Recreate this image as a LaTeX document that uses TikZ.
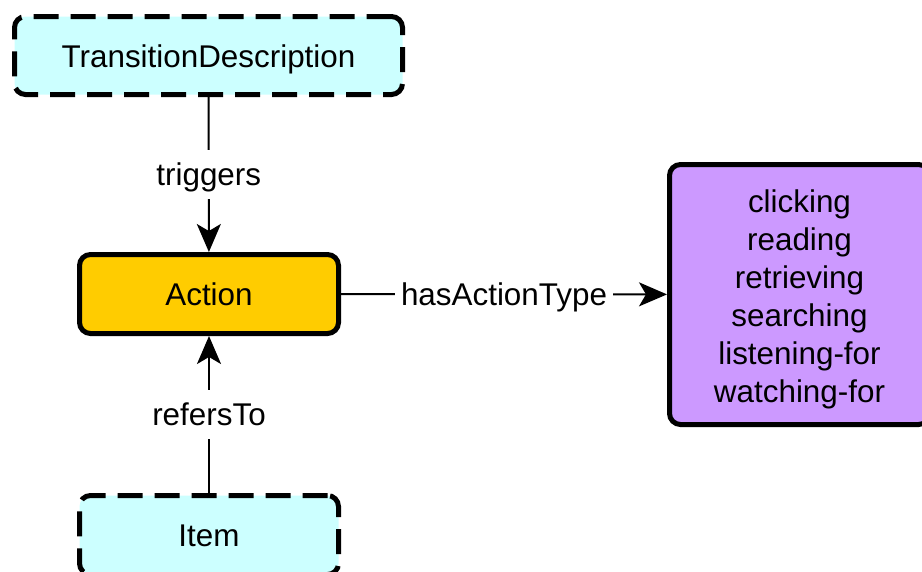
\documentclass[tikz,border=0pt]{standalone}
\usepackage{fontspec}
\setmainfont{Liberation Sans}
\usetikzlibrary{arrows.meta}

\definecolor{itemcyan}{HTML}{CCFFFF}
\definecolor{actiongold}{HTML}{FFCC00}
\definecolor{typepurple}{HTML}{CC99FF}

\begin{document}
\begin{tikzpicture}[x=1pt,y=-1pt,
		box/.style={draw=black, line width=5pt, rounded corners=11pt, align=center,
			font=\fontsize{31.4}{38}\selectfont, inner sep=0pt},
		onebox/.style={box, text height=23.5pt, text depth=0pt},
		dashbox/.style={onebox, fill=itemcyan, dash pattern=on 25pt off 12pt},
		conn/.style={black, line width=2pt, -{Stealth[length=28pt,width=24pt,inset=7pt]}},
		lbl/.style={fill=white, font=\fontsize{31.4}{38}\selectfont, text height=22.6pt, text depth=0pt,
			inner xsep=6pt, inner ysep=13pt}]
		\useasboundingbox (0,0) rectangle (922,571);
		\node[dashbox, minimum width=388pt, minimum height=78pt] (transdesc) at (208.5,55.5) {TransitionDescription};
		\node[onebox, fill=actiongold, minimum width=259pt, minimum height=79pt] (action) at (209,294) {Action};
		\node[dashbox, minimum width=259pt, minimum height=79pt] (item) at (209,535) {Item};
		\node[box, fill=typepurple, minimum width=260pt, minimum height=260pt] (actiontypes) at (799.5,294.5)
			{\rule{0pt}{33pt}clicking\\reading\\retrieving\\searching\\listening-for\\watching-for};
		
		\draw[conn] (transdesc) -- node[lbl]{triggers} (action);
		\draw[conn] (item) -- node[lbl]{refersTo} (action);
		\draw[conn] (action) -- node[lbl]{hasActionType} (actiontypes);
	\end{tikzpicture}
\end{document}
